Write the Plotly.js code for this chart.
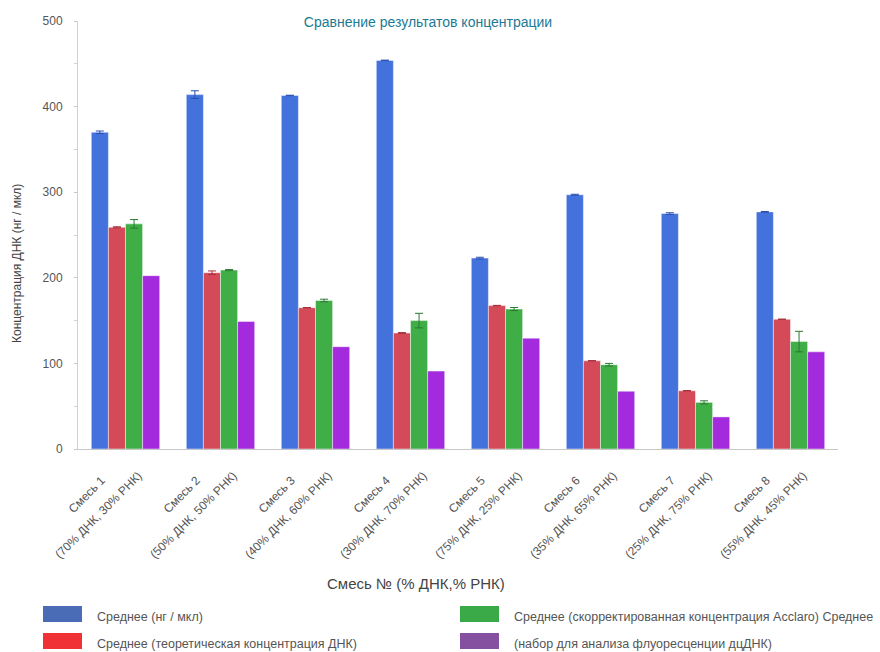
<!DOCTYPE html>
<html>
<head>
<meta charset="utf-8">
<script src="https://cdn.plot.ly/plotly-3.0.1.min.js"></script>
<style>html,body{margin:0;padding:0;background:#fff;}#chart{width:880px;height:652px;}</style>
</head>
<body>
<div id="chart"></div>
<script>
const mixes = ["Смесь 1", "Смесь 2", "Смесь 3", "Смесь 4", "Смесь 5", "Смесь 6", "Смесь 7", "Смесь 8"];
const ratios = ["(70% ДНК, 30% РНК)", "(50% ДНК, 50% РНК)", "(40% ДНК, 60% РНК)", "(30% ДНК, 70% РНК)",
                "(75% ДНК, 25% РНК)", "(35% ДНК, 65% РНК)", "(25% ДНК, 75% РНК)", "(55% ДНК, 45% РНК)"];
const seriesNames = ["Среднее (нг / мкл)", "Среднее (теоретическая концентрация ДНК)",
                     "Среднее (скорректированная концентрация Acclaro) Среднее", "(набор для анализа флуоресценции дцДНК)"];
const meanNgUl = [370, 414, 413, 454, 223, 297, 275, 277];
const meanNgUlErr = [1.5, 4.5, 0.3, 0.3, 1, 0.6, 1, 0.5];
const theoretical = [259, 206, 165, 135.5, 167.5, 103, 68, 151.5];
const theoreticalErr = [0.6, 2, 0.3, 0.5, 0.3, 0.3, 0.3, 0.3];
const acclaro = [263, 209, 173.5, 150, 163.5, 98.5, 54.5, 125.5];
const acclaroErr = [5, 0.6, 1.5, 8.5, 1.8, 1.5, 1.8, 12];
const dsDNA = [202.5, 149, 119.5, 91, 129.5, 67.5, 37.5, 113.5];

const barColors = ["#4372dd", "#d54a58", "#3fae47", "#a32bdd"];
const errColors = ["#2a4fb0", "#a8303c", "#2a7a32", "#7a1aa8"];
const legendColors = ["#4a6bb5", "#f03237", "#3aaa48", "#84509f"];
const values = [meanNgUl, theoretical, acclaro, dsDNA];
const errs = [meanNgUlErr, theoreticalErr, acclaroErr, null];

const traces = values.map((v, i) => ({
  type: "bar", x: mixes, y: v, name: seriesNames[i],
  marker: {color: barColors[i], line: {color: "rgba(255,255,255,0.45)", width: 1}},
  error_y: errs[i] ? {type: "data", array: errs[i], visible: true, color: errColors[i], thickness: 1, width: 4} : {visible: false},
  hoverinfo: "y"
}));

const FONT = "'Liberation Sans', Arial, Helvetica, sans-serif";

const annotations = [];
mixes.forEach((m, i) => {
  annotations.push({
    x: i, xref: "x", y: 0, yref: "paper", xanchor: "center", yanchor: "middle",
    xshift: -39, yshift: -46, textangle: -45, showarrow: false,
    text: m, font: {family: FONT, size: 12, color: "#555"}
  });
  annotations.push({
    x: i, xref: "x", y: 0, yref: "paper", xanchor: "center", yanchor: "middle",
    xshift: -27, yshift: -66, textangle: -45, showarrow: false,
    text: ratios[i], font: {family: FONT, size: 12, color: "#555"}
  });
});
annotations.push({xref: "paper", yref: "paper", x: (17 - 78) / 760, y: (449 - 264) / 428, xanchor: "center", yanchor: "middle",
  textangle: -90, showarrow: false, text: "Концентрация ДНК (нг / мкл)", font: {family: FONT, size: 12, color: "#444"}});
annotations.push({xref: "paper", yref: "paper", x: (416 - 78) / 760, y: (449 - 583) / 428, xanchor: "center", yanchor: "middle",
  showarrow: false, text: "Смесь № (% ДНК,% РНК)", font: {family: FONT, size: 15, color: "#444"}});

// custom legend
const shapes = [];
const legPos = [[43, 606], [43, 633], [460, 606], [460, 633]];
const px = (x) => (x - 78) / 760, py = (y) => (449 - y) / 428;
seriesNames.forEach((n, i) => {
  const [lx, ly] = legPos[i];
  shapes.push({type: "rect", xref: "paper", yref: "paper", x0: px(lx), x1: px(lx + 39), y0: py(ly), y1: py(ly + 16),
    fillcolor: legendColors[i], line: {width: 0}});
  annotations.push({xref: "paper", yref: "paper", x: px(lx + 52), y: py(ly + 11), xanchor: "left", yanchor: "middle",
    showarrow: false, text: n, font: {family: FONT, size: 12.5, color: "#555"}});
});

const layout = {
  width: 880, height: 652,
  margin: {l: 78, r: 42, t: 21, b: 203},
  paper_bgcolor: "#fff", plot_bgcolor: "#fff",
  font: {family: FONT, size: 12, color: "#555"},
  title: {text: "Сравнение результатов концентрации", x: 428 / 880, xanchor: "center", y: 1 - 22 / 652, yanchor: "middle",
          font: {family: FONT, size: 14, color: "#217a94"}},
  showlegend: false,
  barmode: "group", bargap: 0.28, bargroupgap: 0,
  xaxis: {type: "category", range: [-0.5, 7.5], autorange: false, showticklabels: false, showline: true, linecolor: "#c8c8c8", linewidth: 1,
          ticks: "", showgrid: false, zeroline: false},
  yaxis: {range: [0, 500], autorange: false, dtick: 100, showline: true, linecolor: "#d0d0d0", linewidth: 1, ticks: "outside", ticklen: 3,
          tickcolor: "#c8c8c8", showgrid: false, zeroline: false, ticklabelstandoff: 9,
          tickfont: {family: FONT, size: 12, color: "#555"},
          minor: {dtick: 50, ticks: "outside", ticklen: 3, tickcolor: "#d0d0d0", showgrid: false}},
  annotations: annotations, shapes: shapes
};

Plotly.newPlot("chart", traces, layout, {displayModeBar: false});
</script>
</body>
</html>
